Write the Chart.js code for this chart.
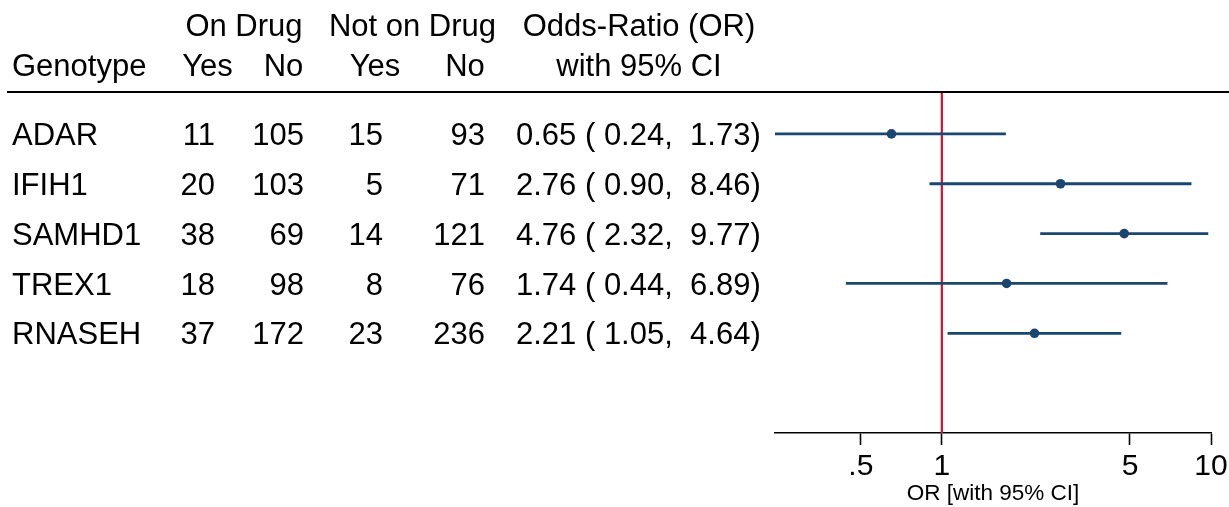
<!DOCTYPE html>
<html>
<head>
<meta charset="utf-8">
<script src="https://cdn.jsdelivr.net/npm/chart.js@4"></script>
<style>
  html, body { margin: 0; padding: 0; background: #fff; }
  #wrap { position: relative; width: 1229px; height: 507px; overflow: hidden;
          font-family: "Liberation Sans", Arial, Helvetica, sans-serif; color: #000; }
  #plot { position: absolute; left: 0; top: 0; }
  .t { position: absolute; font-size: 31px; line-height: 36px; height: 36px; white-space: pre; }
  .rule { position: absolute; left: 7px; right: 0; top: 91px; height: 2px; background: #000; }
</style>
</head>
<body>
<div id="wrap">
  <canvas id="plot" width="1229" height="507"></canvas>
  <div class="rule"></div>
</div>
<script>
// Genotype table and odds-ratio estimates
const genes       = ['ADAR', 'IFIH1', 'SAMHD1', 'TREX1', 'RNASEH'];
const onDrugYes   = [11, 20, 38, 18, 37];
const onDrugNo    = [105, 103, 69, 98, 172];
const offDrugYes  = [15, 5, 14, 8, 23];
const offDrugNo   = [93, 71, 121, 76, 236];
const oddsRatio   = [0.65, 2.76, 4.76, 1.74, 2.21];
const ciLow       = [0.24, 0.90, 2.32, 0.44, 1.05];
const ciHigh      = [1.73, 8.46, 9.77, 6.89, 4.64];
const xTickValues = [0.5, 1, 5, 10];
const xTickLabels = ['.5', '1', '5', '10'];
const xTitle      = 'OR [with 95% CI]';
const headerTop   = [['On Drug', 244], ['Not on Drug', 412.5], ['Odds-Ratio (OR)', 639]];
const headerSub   = [['Yes', 207.5], ['No', 283.5], ['Yes', 375], ['No', 465], ['with 95% CI', 639]];

const NAVY = '#1a476f';
const RED = '#c8133b';

// --- table text ---
const wrap = document.getElementById('wrap');
function put(text, x, cy, align) {
  const d = document.createElement('div');
  d.className = 't';
  d.textContent = text;
  d.style.top = (cy - 18) + 'px';
  if (align === 'left') d.style.left = x + 'px';
  else if (align === 'right') { d.style.left = (x - 300) + 'px'; d.style.width = '300px'; d.style.textAlign = 'right'; }
  else { d.style.left = (x - 150) + 'px'; d.style.width = '300px'; d.style.textAlign = 'center'; }
  wrap.appendChild(d);
}
headerTop.forEach(([s, x]) => put(s, x, 25.5, 'center'));
put('Genotype', 12, 65.5, 'left');
headerSub.forEach(([s, x]) => put(s, x, 65.5, 'center'));

const rowY = i => 134.3 + 49.75 * i;
const fmt = v => v.toFixed(2);
genes.forEach((g, i) => {
  const cy = rowY(i) + 1;
  put(g, 12, cy, 'left');
  put(String(onDrugYes[i]), 215, cy, 'right');
  put(String(onDrugNo[i]), 304, cy, 'right');
  put(String(offDrugYes[i]), 383, cy, 'right');
  put(String(offDrugNo[i]), 485, cy, 'right');
  put(fmt(oddsRatio[i]) + ' ( ' + fmt(ciLow[i]) + ',  ' + fmt(ciHigh[i]) + ')', 516, cy, 'left');
});

// --- forest plot ---
const Y_MIN = 0.16, Y_MAX = 7.0;
const datasets = [];
datasets.push({
  type: 'line', data: [{ x: 1, y: Y_MIN }, { x: 1, y: Y_MAX }],
  borderColor: RED, borderWidth: 2.2, pointRadius: 0, order: 10
});
genes.forEach((g, i) => {
  datasets.push({
    type: 'line', label: g,
    data: [{ x: ciLow[i], y: i + 1 }, { x: ciHigh[i], y: i + 1 }],
    borderColor: NAVY, borderWidth: 2.8, pointRadius: 0, order: 2
  });
});
datasets.push({
  type: 'scatter', label: 'OR',
  data: oddsRatio.map((v, i) => ({ x: v, y: i + 1 })),
  backgroundColor: NAVY, borderColor: NAVY, pointRadius: 4.8, borderWidth: 0, order: 1
});

new Chart(document.getElementById('plot'), {
  type: 'scatter',
  data: { datasets },
  options: {
    responsive: false,
    animation: false,
    events: [],
    layout: { padding: { left: 775, right: 18, top: 92, bottom: 0 } },
    plugins: { legend: { display: false }, tooltip: { enabled: false } },
    scales: {
      x: {
        type: 'logarithmic',
        min: 0.24, max: 10,
        afterBuildTicks: s => { s.ticks = xTickValues.map(v => ({ value: v })); },
        afterFit: s => { s.height = 74; s.paddingLeft = 0; s.paddingRight = 0; },
        ticks: {
          autoSkip: false, maxRotation: 0, padding: 4, color: '#000',
          font: { family: '"Liberation Sans", Arial, sans-serif', size: 30 },
          callback: (v, i) => xTickLabels[i]
        },
        grid: { drawOnChartArea: false, drawTicks: true, tickLength: 12, tickColor: '#000', tickWidth: 1.6 },
        border: { display: true, color: '#000', width: 1.6 },
        title: {
          display: true, text: xTitle, color: '#000',
          font: { family: '"Liberation Sans", Arial, sans-serif', size: 22.5 },
          padding: { top: 0, bottom: 0 }
        }
      },
      y: {
        type: 'linear', display: false, reverse: true, min: Y_MIN, max: Y_MAX
      }
    }
  }
});
</script>
</body>
</html>
